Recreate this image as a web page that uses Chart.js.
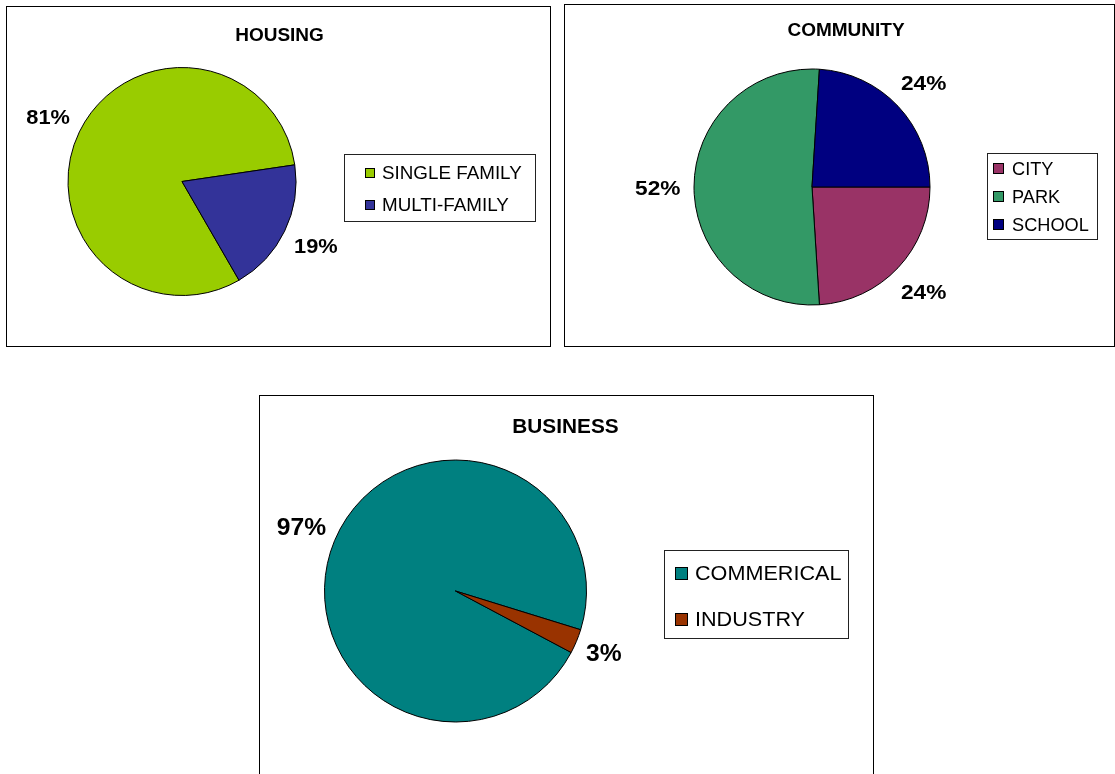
<!DOCTYPE html>
<html>
<head>
<meta charset="utf-8">
<script src="https://cdn.jsdelivr.net/npm/chart.js@4.4.0/dist/chart.umd.min.js"></script>
<style>
  html, body { margin: 0; padding: 0; background: #fff; overflow: hidden; width: 1115px; height: 774px; }
  canvas { position: absolute; }
</style>
</head>
<body>
<canvas id="housing"></canvas>
<canvas id="community"></canvas>
<canvas id="business"></canvas>
<script>
// Land-use shares, one pie per category
const housingTitle = 'HOUSING';
const housingLabels = ['SINGLE FAMILY', 'MULTI-FAMILY'];
const housingValues = [81, 19];
const housingColors = ['#99CC00', '#333399'];

const communityTitle = 'COMMUNITY';
const communityLabels = ['CITY', 'PARK', 'SCHOOL'];
const communityValues = [24, 52, 24];
const communityColors = ['#993366', '#339966', '#000080'];

const businessTitle = 'BUSINESS';
const businessLabels = ['COMMERICAL', 'INDUSTRY'];
const businessValues = [97, 3];
const businessColors = ['#008080', '#993300'];

const FONT = "'Liberation Sans', Arial, Helvetica, sans-serif";
const CAP = 0.716; // cap height as a fraction of the font size

// Text drawn with a slight horizontal stretch (wide-set lettering)
function stretchText(ctx, txt, x, y, sx) {
  ctx.save();
  ctx.translate(x, y);
  ctx.scale(sx, 1);
  ctx.fillText(txt, 0, 0);
  ctx.restore();
}

// Frame, title, outside percentage labels and boxed legend for one panel
function panelDecor(deco) {
  return {
    id: 'panelDecor',
    afterDraw(chart) {
      const ctx = chart.ctx;
      const W = chart.width, H = chart.height;
      const ds = chart.data.datasets[0];
      ctx.save();

      ctx.strokeStyle = '#000';
      ctx.lineWidth = 1;
      ctx.strokeRect(0.5, 0.5, W - 1, H - 1);

      ctx.fillStyle = '#000';
      ctx.textBaseline = 'alphabetic';
      ctx.textAlign = 'center';
      ctx.font = `bold ${deco.titleSize}px ${FONT}`;
      stretchText(ctx, deco.title, deco.titleX, deco.titleY + deco.titleSize * CAP / 2, deco.titleStretch);

      // percentage labels just outside each slice
      const meta = chart.getDatasetMeta(0);
      const total = ds.data.reduce((a, b) => a + b, 0);
      ctx.font = `bold ${deco.labelSize}px ${FONT}`;
      meta.data.forEach((arc, i) => {
        const p = arc.getProps(['x', 'y', 'startAngle', 'endAngle', 'outerRadius'], true);
        const mid = (p.startAngle + p.endAngle) / 2;
        const c = Math.cos(mid), s = Math.sin(mid);
        const txt = Math.round(ds.data[i] / total * 100) + '%';
        const w = ctx.measureText(txt).width * deco.labelStretch;
        const h = deco.labelSize * CAP;
        const d = p.outerRadius + deco.labelGap + Math.abs(c) * w / 2 + Math.abs(s) * h / 2;
        stretchText(ctx, txt, p.x + d * c, p.y + d * s + h / 2, deco.labelStretch);
      });

      // legend
      const L = deco.legend;
      ctx.strokeStyle = '#222';
      ctx.strokeRect(L.x + 0.5, L.y + 0.5, L.w, L.h);
      ctx.font = `${L.size}px ${FONT}`;
      ctx.textAlign = 'left';
      chart.data.labels.forEach((lab, i) => {
        const cy = L.rows[i];
        const y0 = Math.round(cy - L.mark / 2);
        ctx.fillStyle = ds.backgroundColor[i];
        ctx.fillRect(L.markX, y0, L.mark, L.mark);
        ctx.strokeStyle = '#000';
        ctx.strokeRect(L.markX + 0.5, y0 + 0.5, L.mark - 1, L.mark - 1);
        ctx.fillStyle = '#000';
        stretchText(ctx, lab, L.textX, cy + L.size * CAP / 2, L.stretch);
      });
      ctx.restore();
    }
  };
}

function makePie(id, panel, title, labels, values, colors, deco) {
  const cv = document.getElementById(id);
  cv.width = panel.w;
  cv.height = panel.h;
  cv.style.left = panel.left + 'px';
  cv.style.top = panel.top + 'px';
  const { cx, cy, r } = panel;
  deco.title = title;
  return new Chart(cv, {
    type: 'pie',
    data: {
      labels: labels,
      datasets: [{
        data: values,
        backgroundColor: colors,
        borderColor: '#000',
        borderWidth: 1
      }]
    },
    options: {
      responsive: false,
      animation: false,
      rotation: panel.rotation,
      radius: r,
      layout: {
        padding: {
          left: cx - r - 1,
          top: cy - r - 1,
          right: panel.w - (cx + r + 1),
          bottom: panel.h - (cy + r + 1)
        }
      },
      plugins: {
        legend: { display: false },
        title: { display: false },
        tooltip: { enabled: false }
      }
    },
    plugins: [panelDecor(deco)]
  });
}

makePie('housing',
  { left: 6, top: 6, w: 545, h: 341, cx: 176, cy: 175.5, r: 114, rotation: 150 },
  housingTitle, housingLabels, housingValues, housingColors,
  {
    titleX: 273.5, titleY: 28, titleSize: 19, titleStretch: 1.0,
    labelSize: 20, labelGap: 12, labelStretch: 1.09,
    legend: { x: 338, y: 148, w: 191, h: 67, size: 18, stretch: 1.045, mark: 10, markX: 359, textX: 376, rows: [166.5, 198.5] }
  });

makePie('community',
  { left: 564, top: 4, w: 551, h: 343, cx: 248, cy: 183, r: 118, rotation: 90 },
  communityTitle, communityLabels, communityValues, communityColors,
  {
    titleX: 282, titleY: 25, titleSize: 19, titleStretch: 1.0,
    labelSize: 21, labelGap: 13.5, labelStretch: 1.08,
    legend: { x: 423, y: 149, w: 110, h: 86, size: 18, stretch: 1.01, mark: 11, markX: 429, textX: 448, rows: [164.5, 192.5, 220.5] }
  });

makePie('business',
  { left: 259, top: 395, w: 615, h: 420, cx: 196.5, cy: 196, r: 131, rotation: 118 },
  businessTitle, businessLabels, businessValues, businessColors,
  {
    titleX: 306.5, titleY: 30.5, titleSize: 20, titleStretch: 1.04,
    labelSize: 23, labelGap: 10, labelStretch: 1.07,
    legend: { x: 405, y: 155, w: 184, h: 88, size: 20, stretch: 1.08, mark: 13, markX: 416, textX: 436, rows: [178, 224] }
  });
</script>
</body>
</html>
